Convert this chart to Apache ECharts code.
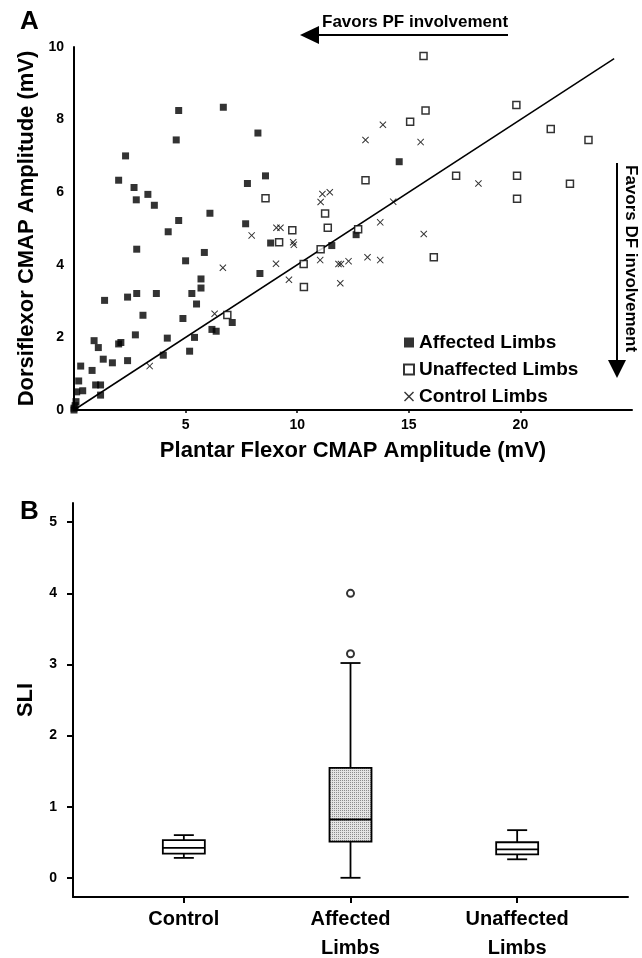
<!DOCTYPE html>
<html>
<head>
<meta charset="utf-8">
<script src="https://cdn.jsdelivr.net/npm/echarts@6/dist/echarts.min.js"></script>
<style>html,body{margin:0;padding:0;background:#fff;}#chart{width:642px;height:958px;}</style>
</head>
<body>
<div id="chart"></div>
<script>
// ---- Panel A data (PF amplitude, DF amplitude) ----
const affected = [
  [4.69,8.25],[6.69,8.34],[8.24,7.63],[4.58,7.44],[2.31,7.0],[2.0,6.33],[2.69,6.13],[3.31,5.94],
  [2.79,5.79],[3.6,5.64],[7.77,6.24],[6.09,5.42],[4.69,5.22],[7.69,5.13],[4.22,4.91],[8.58,6.45],
  [14.57,6.84],[12.64,4.83],[8.81,4.6],[11.55,4.53],[2.81,4.43],[5.84,4.34],[5.0,4.11],[8.33,3.76],
  [5.69,3.61],[5.69,3.36],[5.28,3.21],[5.49,2.92],[2.81,3.21],[2.40,3.11],[3.69,3.21],[1.37,3.02],
  [3.09,2.61],[4.88,2.52],[7.09,2.41],[6.18,2.22],[6.37,2.17],[2.75,2.07],[4.18,1.98],[5.40,2.0],
  [0.90,1.91],[1.09,1.72],[2.0,1.82],[2.10,1.86],[1.31,1.40],[1.72,1.30],[2.40,1.36],[4.0,1.51],
  [5.18,1.62],[0.30,1.21],[0.81,1.09],[0.21,0.80],[0.97,0.69],[1.19,0.69],[0.12,0.50],[0.39,0.53],
  [1.19,0.41],[0.09,0.23],[0.0,0.05],[0.0,0.0],[0.05,0.12]
];
const unaffected = [
  [6.87,2.62],[8.58,5.83],[9.19,4.62],[9.78,4.95],[10.29,4.02],[10.30,3.39],[11.05,4.43],[11.25,5.41],
  [11.37,5.02],[12.73,4.98],[13.06,6.33],[15.06,7.94],[15.66,9.75],[15.75,8.25],[16.12,4.21],[17.12,6.45],
  [19.82,8.40],[19.85,6.45],[19.85,5.82],[21.36,7.74],[22.22,6.23],[23.05,7.44]
];
const control = [
  [3.39,1.21],[6.30,2.65],[6.67,3.92],[7.96,4.81],[9.07,5.02],[9.25,5.02],[9.05,4.03],[9.63,3.59],
  [9.82,4.62],[9.85,4.55],[11.13,5.95],[11.46,6.0],[11.05,5.73],[11.03,4.13],[11.85,4.02],[11.96,4.02],
  [11.93,3.49],[12.30,4.10],[13.15,4.21],[13.72,4.13],[13.72,5.17],[14.3,5.74],[13.06,7.44],[13.84,7.86],
  [15.53,7.38],[15.67,4.85],[18.12,6.24]
];
const identityLine = [[0,0],[24.2,9.68]];
const xTicksA = [5,10,15,20];
const yTicksA = [0,2,4,6,8,10];

// ---- Panel B data (SLI box plots) ----
const boxCategories = ['Control','Affected Limbs','Unaffected Limbs'];
const boxLow    = [0.28, 0.00, 0.26];
const boxQ1     = [0.34, 0.51, 0.33];
const boxMedian = [0.42, 0.82, 0.40];
const boxQ3     = [0.53, 1.545, 0.50];
const boxHigh   = [0.60, 3.02, 0.67];
const outlierCategory = ['Affected Limbs','Affected Limbs'];
const outlierValue = [4.0, 3.15];
const sliTicks = [0,1,2,3,4,5];

const FONT = '"Liberation Sans", Arial, Helvetica, sans-serif';

// stipple pattern for the affected box
const pc = document.createElement('canvas');
pc.width = 2; pc.height = 2;
const pctx = pc.getContext('2d');
pctx.fillStyle = '#e4e4e4'; pctx.fillRect(0,0,2,2);
pctx.fillStyle = '#8c8c8c'; pctx.fillRect(0,0,1,1);
const stipple = {image: pc, repeat: 'repeat'};

const boxData = boxCategories.map((c,i)=>[i+1, boxLow[i], boxQ1[i], boxMedian[i], boxQ3[i], boxHigh[i]]);
const outlierData = outlierCategory.map((c,i)=>[boxCategories.indexOf(c)+1, outlierValue[i]]);

const crossPath = 'path://M0,1L1,0L5,4L9,0L10,1L6,5L10,9L9,10L5,6L1,10L0,9L4,5Z';
const axisLineStyle = {show:true, onZero:false, lineStyle:{color:'#000', width:2}};
const labelStyle = {color:'#000', fontWeight:'bold', fontFamily:FONT};

const chart = echarts.init(document.getElementById('chart'), null, {renderer:'canvas'});
chart.setOption({
  animation:false,
  backgroundColor:'#fff',
  textStyle:{fontFamily:FONT, color:'#000'},
  grid:[
    {left:74, top:47, width:558, height:363, outerBoundsMode:'none', containLabel:false},
    {left:73, top:503, width:555, height:394, outerBoundsMode:'none', containLabel:false}
  ],
  legend:{
    data:['Affected Limbs','Unaffected Limbs','Control Limbs'],
    orient:'vertical', left:398, top:328,
    itemWidth:10, itemHeight:10, itemGap:8,
    textStyle:{fontSize:19, fontWeight:'bold', color:'#000', fontFamily:FONT}
  },
  xAxis:[
    {type:'value', gridIndex:0, min:0, max:25,
     axisLine:axisLineStyle, splitLine:{show:false},
     axisTick:{show:true, customValues:xTicksA, length:3, lineStyle:{color:'#000', width:1.5}},
     axisLabel:Object.assign({customValues:xTicksA, fontSize:14, margin:8}, labelStyle),
     name:'Plantar Flexor CMAP Amplitude (mV)', nameLocation:'middle', nameGap:30,
     nameTextStyle:{fontSize:22, fontWeight:'bold', color:'#000', fontFamily:FONT}},
    {type:'value', gridIndex:1, min:0.335, max:3.665,
     axisLine:axisLineStyle, splitLine:{show:false},
     axisTick:{show:true, customValues:[1,2,3], length:6, lineStyle:{color:'#000', width:2}},
     axisLabel:Object.assign({customValues:[1,2,3], fontSize:20, margin:8, lineHeight:29,
       formatter:v=>boxCategories[Math.round(v)-1].replace(' ','\n')}, labelStyle)}
  ],
  yAxis:[
    {type:'value', gridIndex:0, min:0, max:10,
     axisLine:axisLineStyle, splitLine:{show:false},
     axisTick:{show:false},
     axisLabel:Object.assign({customValues:yTicksA, fontSize:14, margin:10}, labelStyle),
     name:'Dorsiflexor CMAP Amplitude (mV)', nameLocation:'middle', nameGap:34,
     nameTextStyle:{fontSize:22, fontWeight:'bold', color:'#000', fontFamily:FONT}},
    {type:'value', gridIndex:1, min:-0.27, max:5.27,
     axisLine:axisLineStyle, splitLine:{show:false},
     axisTick:{show:true, customValues:sliTicks, length:6, lineStyle:{color:'#000', width:2}},
     axisLabel:Object.assign({customValues:sliTicks, fontSize:14, margin:16}, labelStyle),
     name:'SLI', nameLocation:'middle', nameGap:36,
     nameTextStyle:{fontSize:22, fontWeight:'bold', color:'#000', fontFamily:FONT}}
  ],
  series:[
    {name:'identity', type:'line', xAxisIndex:0, yAxisIndex:0, data:identityLine,
     showSymbol:false, symbol:'none', silent:true, lineStyle:{color:'#000', width:1.5}, z:1},
    {name:'Affected Limbs', type:'scatter', xAxisIndex:0, yAxisIndex:0, data:affected,
     symbol:'rect', symbolSize:7, itemStyle:{color:'#000'}, z:3},
    {name:'Unaffected Limbs', type:'scatter', xAxisIndex:0, yAxisIndex:0, data:unaffected,
     symbol:'rect', symbolSize:7, itemStyle:{color:'#fff', borderColor:'#000', borderWidth:1.5}, z:3},
    {name:'Control Limbs', type:'scatter', xAxisIndex:0, yAxisIndex:0, data:control,
     symbol:crossPath, symbolSize:7, itemStyle:{color:'#000'}, z:3},
    {name:'box', type:'custom', xAxisIndex:1, yAxisIndex:1, data:boxData, silent:true,
     renderItem:function(params, api){
       const x = api.value(0);
       const pLow = api.coord([x, api.value(1)]);
       const pQ1 = api.coord([x, api.value(2)]);
       const pMed = api.coord([x, api.value(3)]);
       const pQ3 = api.coord([x, api.value(4)]);
       const pHigh = api.coord([x, api.value(5)]);
       const cx = pQ1[0], hw = 21, cw = 10;
       const st = {stroke:'#000', lineWidth:1.8};
       const fill = boxCategories[params.dataIndex] === 'Affected Limbs' ? stipple : '#fff';
       return {type:'group', children:[
         {type:'line', shape:{x1:cx, y1:pHigh[1], x2:cx, y2:pQ3[1]}, style:st},
         {type:'line', shape:{x1:cx, y1:pQ1[1], x2:cx, y2:pLow[1]}, style:st},
         {type:'line', shape:{x1:cx-cw, y1:pHigh[1], x2:cx+cw, y2:pHigh[1]}, style:st},
         {type:'line', shape:{x1:cx-cw, y1:pLow[1], x2:cx+cw, y2:pLow[1]}, style:st},
         {type:'rect', shape:{x:cx-hw, y:pQ3[1], width:2*hw, height:pQ1[1]-pQ3[1]},
          style:{fill:fill, stroke:'#000', lineWidth:1.8}},
         {type:'line', shape:{x1:cx-hw, y1:pMed[1], x2:cx+hw, y2:pMed[1]}, style:st}
       ]};
     }},
    {name:'outliers', type:'scatter', xAxisIndex:1, yAxisIndex:1, data:outlierData,
     symbol:'circle', symbolSize:7, itemStyle:{color:'#fff', borderColor:'#000', borderWidth:2}}
  ],
  graphic:[
    {type:'text', left:20, top:9, style:{text:'A', font:'bold 26px '+FONT, fill:'#000'}},
    {type:'text', left:20, top:499, style:{text:'B', font:'bold 26px '+FONT, fill:'#000'}},
    {type:'line', shape:{x1:316, y1:35, x2:508, y2:35}, style:{stroke:'#000', lineWidth:2}},
    {type:'polygon', shape:{points:[[300,35],[319,26],[319,44]]}, style:{fill:'#000'}},
    {type:'text', x:322, y:22, style:{text:'Favors PF involvement', font:'bold 17px '+FONT, fill:'#000', align:'left', verticalAlign:'middle'}},
    {type:'line', shape:{x1:617, y1:163, x2:617, y2:362}, style:{stroke:'#000', lineWidth:2}},
    {type:'polygon', shape:{points:[[617,378],[608,360],[626,360]]}, style:{fill:'#000'}},
    {type:'text', x:631, y:165, rotation:-Math.PI/2, style:{text:'Favors DF involvement', font:'bold 17px '+FONT, fill:'#000', align:'left', verticalAlign:'middle'}}
  ]
});
</script>
</body>
</html>
